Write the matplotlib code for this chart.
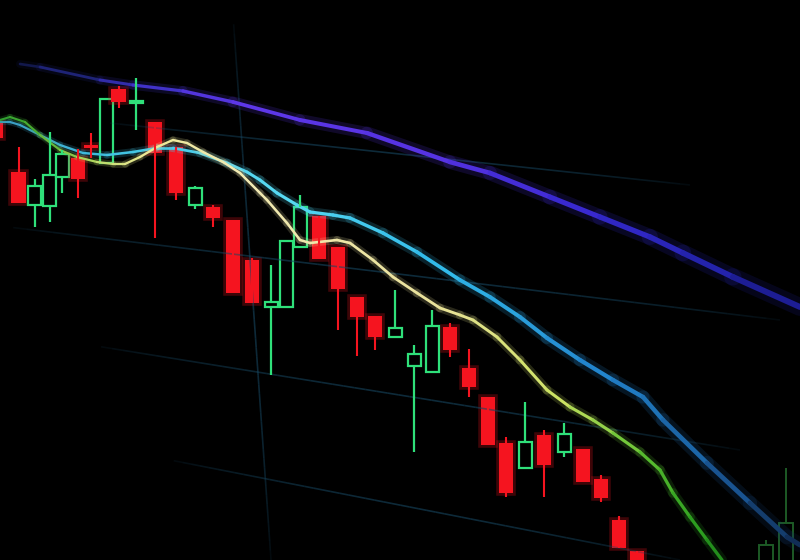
import numpy as np
import matplotlib.pyplot as plt
from matplotlib.collections import LineCollection
from matplotlib.colors import LinearSegmentedColormap

# candles (pixel units, y grows downward)
candle_x = [-4, 18.5, 34.5, 49.5, 62, 78, 91, 106, 118.5, 136,
            155, 176, 195, 213, 233, 252, 271, 286, 300, 319,
            338, 357, 375, 395, 414, 432, 450, 469, 488, 506,
            525, 544, 564, 583, 601, 619, 637]
body_top = [122, 172, 186, 175, 154, 158, 145, 99, 89, 101,
            122, 147, 188, 207, 220, 260, 302, 241, 207, 216,
            247, 297, 316, 328, 354, 326, 327, 368, 397, 443,
            442, 435, 434, 449, 479, 520, 551]
body_bot = [138, 203, 205, 206, 177, 179, 148, 163, 102, 103,
            153, 193, 205, 218, 293, 303, 307, 307, 247, 259,
            289, 317, 337, 337, 366, 372, 350, 387, 445, 493,
            468, 465, 452, 482, 498, 548, 566]
wick_top = [122, 147, 179, 132, 150, 149, 133, 99, 86, 78,
            122, 147, 186, 205, 220, 258, 265, 241, 195, 216,
            247, 297, 316, 290, 345, 310, 323, 349, 397, 437,
            402, 430, 423, 449, 475, 516, 551]
wick_bot = [138, 203, 227, 222, 193, 198, 158, 163, 108, 130,
            238, 200, 209, 227, 293, 303, 375, 307, 247, 259,
            330, 356, 350, 337, 452, 373, 357, 397, 445, 497,
            468, 497, 457, 482, 502, 548, 566]
kind = ["d", "d", "u", "u", "u", "d", "d", "u", "d", "u",
        "d", "d", "u", "d", "d", "d", "u", "u", "u", "d",
        "d", "d", "d", "u", "u", "u", "d", "d", "d", "d",
        "u", "d", "u", "d", "d", "d", "d"]

# dim candles in the out-of-focus bottom right corner
faint_x = [766, 786]
faint_top = [545, 523]
faint_bot = [566, 566]
faint_high = [540, 468]

# moving averages
fast_x = [0, 10, 25, 40, 60, 77, 97, 113, 125, 140, 157, 173, 187, 203, 223,
          240, 260, 267, 287, 300, 310, 337, 350, 373, 393, 417, 440, 460,
          473, 497, 520, 547, 570, 593, 613, 640, 660, 673, 690, 707, 722]
fast_y = [120, 117, 122, 135, 150, 157, 162, 164, 164, 157, 147, 140, 143, 152, 162,
          173, 193, 200, 223, 240, 243, 240, 243, 260, 277, 293, 308, 315,
          320, 337, 360, 390, 407, 420, 433, 452, 470, 493, 517, 540, 560]
mid_x = [0, 10, 20, 40, 60, 83, 107, 133, 157, 173, 200, 227, 247, 260, 277, 297,
         310, 333, 350, 383, 417, 460, 490, 520, 547, 580, 613, 643, 663, 707,
         750, 787, 800]
mid_y = [122, 122, 125, 135, 145, 153, 155, 152, 148, 148, 153, 163, 172, 180, 193, 205,
         212, 215, 218, 233, 252, 280, 297, 317, 338, 360, 380, 397, 420, 463,
         503, 537, 545]
slow_x = [20, 40, 100, 133, 183, 233, 300, 367, 450, 490, 550, 600, 650, 683, 733, 800]
slow_y = [64, 67, 80, 85, 91, 102, 120, 133, 162, 173, 197, 217, 237, 253, 277, 307]

# faint screen grid (start, end)
grid_lines = [((100, 122), (690, 185)),
              ((0, 226), (780, 320)),
              ((90, 345), (740, 450)),
              ((165, 459), (680, 560)),
              ((233, 15), (271, 560))]

red = "#f5141f"
green = "#2fe07a"

fig = plt.figure(figsize=(8, 5.6), dpi=100, facecolor="black")
ax = fig.add_axes([0, 0, 1, 1])
ax.set_facecolor("black")
ax.set_xlim(0, 800)
ax.set_ylim(560, 0)
ax.axis("off")

# grid, fading out at both ends
for (x0, y0), (x1, y1) in grid_lines:
    t = np.linspace(0, 1, 60)
    px = x0 + (x1 - x0) * t
    py = y0 + (y1 - y0) * t
    pts = np.column_stack([px, py]).reshape(-1, 1, 2)
    segs = np.concatenate([pts[:-1], pts[1:]], axis=1)
    a = np.sin(np.pi * t[:-1]) ** 0.5 * 0.6
    cols = np.zeros((len(segs), 4))
    cols[:, :3] = (0.09, 0.28, 0.38)
    cols[:, 3] = a
    ax.add_collection(LineCollection(segs, colors=cols, linewidths=1.2))


def ma_line(xs, ys, stops, w0, w1):
    pts = np.column_stack([xs, ys]).reshape(-1, 1, 2)
    segs = np.concatenate([pts[:-1], pts[1:]], axis=1)
    mids = (np.array(xs[:-1]) + np.array(xs[1:])) / 2
    cmap = LinearSegmentedColormap.from_list("ma", stops)
    cols = cmap(mids / 800)
    widths = w0 + (w1 - w0) * mids / 800
    glow = cols.copy()
    glow[:, 3] *= 0.18
    ax.add_collection(LineCollection(segs, colors=glow, linewidths=widths * 3,
                                     capstyle="round", joinstyle="round"))
    ax.add_collection(LineCollection(segs, colors=cols, linewidths=widths,
                                     capstyle="round", joinstyle="round"))


ma_line(slow_x, slow_y,
        [(0, "#0a1030"), (0.08, "#1c2270"), (0.17, "#3a30c0"), (0.3, "#5e38ea"),
         (0.55, "#5532e2"), (0.75, "#3428cc"), (0.9, "#2222aa"), (1, "#1a1a85")],
        1.8, 4.4)
ma_line(mid_x, mid_y,
        [(0, "#3a9cc0"), (0.15, "#42c2e2"), (0.35, "#58daf2"), (0.55, "#32bbea"),
         (0.75, "#2284cc"), (0.9, "#1a5a9a"), (1, "#102a50")],
        1.5, 3.6)
ma_line(fast_x, fast_y,
        [(0, "#2e9e30"), (0.05, "#50b030"), (0.1, "#a8d458"), (0.18, "#ece894"),
         (0.3, "#f2eab4"), (0.55, "#eae29a"), (0.7, "#cce262"), (0.8, "#62c232"),
         (0.87, "#2ea020"), (0.92, "#177a18"), (1, "#0c4c0c")],
        1.5, 2.5)

# candles
for x, t, b, hi, lo, k in zip(candle_x, body_top, body_bot, wick_top, wick_bot, kind):
    if k == "d":
        ax.vlines(x, hi, lo, color=red, lw=1.5)
        ax.bar(x, b - t, bottom=t, width=14.5, color=red, alpha=0.25, lw=4,
               edgecolor=red)
        ax.bar(x, b - t, bottom=t, width=14.5, color=red)
    else:
        ax.vlines(x, hi, t, color=green, lw=1.6)
        ax.vlines(x, b, lo, color=green, lw=1.6)
        ax.bar(x, b - t, bottom=t, width=13, facecolor="black",
               edgecolor=green, linewidth=1.6)

for x, t, b, hi in zip(faint_x, faint_top, faint_bot, faint_high):
    ax.vlines(x, hi, t, color="#1d5a26", lw=1.4)
    ax.bar(x, b - t, bottom=t, width=14, facecolor="black",
           edgecolor="#1d5a26", linewidth=1.4)

plt.savefig("out.png", dpi=100, facecolor="black")
plt.close()
